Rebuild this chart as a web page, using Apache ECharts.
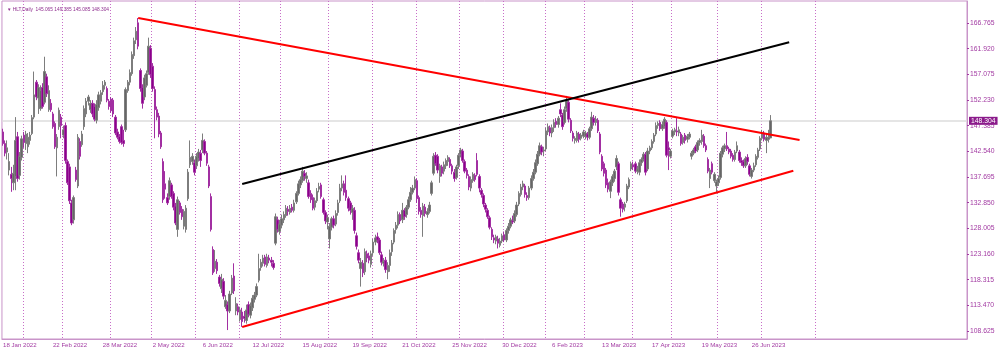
<!DOCTYPE html>
<html>
<head>
<meta charset="utf-8">
<script src="https://cdn.jsdelivr.net/npm/echarts@6/dist/echarts.min.js"></script>
<style>
  html, body { margin: 0; padding: 0; background: #fff; }
  #chart { width: 1000px; height: 352px; }
</style>
</head>
<body>
<div id="chart"></div>
<script>
// HLT daily candles, 18 Jan 2022 .. 10 Jul 2023
const firstDay = '2022-01-18';
const holidays = [
  '2022-01-17', '2022-02-21', '2022-04-15', '2022-05-30', '2022-06-20', '2022-07-04',
  '2022-09-05', '2022-11-24', '2022-12-26', '2023-01-02', '2023-01-16', '2023-02-20',
  '2023-04-07', '2023-05-29', '2023-06-19', '2023-07-04'
];
const futureBars = 94; // empty space right of the last bar

const opens = [
  146.2,144.0,142.4,139.0,138.2,136.6,137.8,145.3,138.0,141.4,
  145.6,144.0,143.4,144.6,145.9,149.0,155.6,152.6,150.6,154.6,
  151.8,156.6,150.4,151.6,149.6,147.8,143.2,147.2,149.0,145.6,
  147.4,140.6,139.6,132.8,129.6,139.0,136.0,144.4,143.8,147.2,
  149.6,152.0,150.4,151.6,151.0,148.4,150.8,152.0,153.8,155.0,
  154.4,152.0,152.4,152.2,149.0,146.2,145.4,147.2,144.6,146.6,
  154.0,155.6,157.2,160.6,163.6,166.8,157.8,154.6,152.8,155.0,
  157.4,162.0,158.6,154.2,150.4,149.2,146.0,140.6,136.4,133.8,
  134.0,136.2,134.6,132.2,127.8,132.8,131.6,128.4,127.8,133.6,
  140.0,140.6,140.4,139.8,141.2,142.2,142.8,144.4,142.2,139.6,
  134.0,124.0,120.4,121.6,118.8,116.6,118.0,113.2,113.6,112.4,
  115.8,119.0,112.4,113.2,110.8,112.2,111.4,110.6,113.6,111.6,
  113.0,114.6,115.4,118.2,120.6,121.4,122.6,121.0,122.4,122.0,
  121.4,125.2,129.6,127.4,128.6,129.6,130.4,131.6,131.0,132.0,
  131.4,133.0,134.6,136.2,137.0,138.4,137.4,136.6,134.6,133.8,
  132.0,133.2,135.4,136.2,133.4,131.0,129.2,126.0,128.2,129.8,
  128.8,131.0,133.2,135.6,136.4,135.2,133.6,132.8,131.0,131.4,
  126.6,123.4,120.4,121.4,119.8,123.2,122.8,121.2,123.4,125.4,
  126.4,125.8,123.0,121.4,122.0,119.8,121.0,123.6,125.4,127.8,
  128.6,130.6,129.6,131.4,130.6,132.0,133.4,134.8,135.6,137.0,
  133.8,131.4,130.4,132.0,130.6,131.2,134.6,138.4,141.8,141.6,
  137.8,139.6,138.8,139.8,140.6,141.0,139.8,138.6,137.6,139.8,
  142.0,142.6,140.6,139.0,137.8,135.6,137.0,138.0,140.8,137.8,
  135.2,134.2,132.4,131.4,130.0,127.8,126.2,125.6,126.0,124.8,
  125.6,126.8,125.8,127.6,128.4,129.4,129.4,130.6,132.6,134.4,
  135.8,136.0,134.2,133.8,135.6,137.4,138.6,140.2,142.0,143.4,
  142.6,143.0,146.2,147.0,146.0,147.0,148.2,147.6,150.4,149.4,
  148.0,150.6,151.8,148.4,146.0,144.6,144.6,145.8,145.0,145.4,
  145.4,145.8,145.2,146.8,148.8,148.0,148.4,145.8,141.6,140.2,
  139.0,136.6,135.0,136.6,137.4,139.6,140.2,133.4,132.6,132.0,
  133.2,135.8,139.2,140.0,140.2,138.8,138.6,140.4,141.0,142.0,
  139.2,142.6,143.2,144.4,145.8,147.4,148.0,146.8,147.2,148.0,
  143.2,141.6,145.4,146.2,146.4,146.0,145.8,144.2,145.6,144.8,
  145.2,141.6,142.2,143.4,142.8,144.2,144.4,145.4,143.6,141.0,
  137.4,140.2,137.0,136.0,136.6,137.6,142.0,143.0,143.6,143.0,
  142.6,141.8,141.0,142.6,142.4,140.8,140.6,139.8,141.4,139.8,
  137.8,139.0,140.0,141.4,143.0,145.0,146.0,144.6,144.8,145.065
];
const closes = [
  144.0,142.2,143.2,140.6,137.4,138.4,144.6,137.4,141.6,144.9,
  144.2,145.8,145.2,145.6,148.9,153.2,152.8,154.6,154.0,151.0,
  157.6,153.4,154.0,150.4,147.2,143.4,145.2,150.3,147.4,146.6,
  140.8,136.6,133.2,129.0,133.8,137.2,145.2,141.6,145.8,150.6,
  152.0,152.8,151.6,149.6,148.6,151.4,153.2,153.6,155.0,155.6,
  152.2,151.0,150.2,149.6,146.0,145.2,144.4,144.2,144.0,154.2,
  155.6,157.4,160.8,163.4,165.2,162.4,154.4,151.6,156.4,157.2,
  162.4,157.0,154.4,150.4,149.0,145.8,143.4,133.4,135.4,132.8,
  137.0,134.0,132.0,129.0,133.4,131.0,130.2,131.2,131.8,138.6,
  141.4,141.6,138.6,141.6,142.4,140.8,144.6,142.2,140.3,136.0,
  127.8,119.6,121.8,120.0,117.6,118.4,115.2,114.4,112.4,115.6,
  118.6,116.2,113.8,112.2,112.6,110.4,111.0,112.6,111.8,113.4,
  114.8,115.4,117.0,120.4,121.6,122.4,121.2,122.6,122.0,121.6,
  120.6,130.2,127.8,128.8,129.8,130.6,131.8,131.2,131.8,131.4,
  132.8,134.6,136.4,137.2,138.8,137.8,137.9,134.0,133.4,131.8,
  133.2,135.0,135.9,134.0,131.0,129.4,130.0,128.4,129.8,128.6,
  130.8,132.8,135.6,136.4,134.8,133.8,131.8,131.4,131.8,127.6,
  124.6,122.0,121.6,119.6,123.6,122.4,122.0,123.2,125.4,126.2,
  125.8,123.4,121.6,121.8,120.2,121.0,123.4,125.2,127.6,128.6,
  130.6,129.4,131.4,130.2,132.0,133.4,134.8,135.6,137.2,133.6,
  131.2,130.6,132.2,130.8,131.2,132.4,136.6,141.6,140.2,139.0,
  139.8,138.4,140.0,140.8,141.4,139.8,138.8,137.4,139.6,141.8,
  142.8,140.8,138.8,138.0,135.8,137.2,138.2,137.2,138.2,135.6,
  134.4,132.6,131.6,130.2,128.2,126.4,125.8,126.4,125.2,125.6,
  126.6,125.8,127.6,128.4,129.6,129.2,130.8,132.4,134.6,135.8,
  136.4,134.4,133.8,135.6,137.4,138.6,140.4,142.0,143.6,142.4,
  142.8,146.4,147.2,146.0,147.0,148.0,147.6,148.8,149.6,147.2,
  150.4,152.2,148.6,146.4,145.0,145.0,146.0,144.8,145.6,146.2,
  146.0,145.2,146.8,149.0,148.0,148.6,146.4,142.4,139.2,138.4,
  136.2,135.4,136.8,137.8,138.8,141.2,134.8,131.8,131.6,132.6,
  136.0,137.2,140.2,139.6,138.8,139.2,140.4,141.0,142.0,138.6,
  142.6,143.2,144.4,145.6,147.4,147.8,146.8,147.6,148.6,141.8,
  142.8,142.6,146.4,146.6,146.2,146.6,144.0,145.2,144.6,145.4,
  145.8,142.2,142.8,142.6,144.2,144.6,145.6,143.6,142.8,138.8,
  139.0,138.6,138.2,136.8,137.4,142.2,143.2,143.6,143.0,142.4,
  141.6,141.0,142.4,143.6,140.8,140.4,139.8,141.2,140.6,138.2,
  139.0,139.8,141.6,142.8,145.0,146.0,144.8,145.2,145.1,148.304
];
const lows = [
  143.6,141.6,141.0,138.0,134.9,135.2,135.2,136.8,137.2,140.8,
  143.2,142.8,142.2,143.8,145.6,148.6,152.2,149.6,150.2,150.6,
  151.4,152.8,150.0,150.0,146.8,143.0,137.8,146.6,145.0,145.0,
  140.2,136.2,132.6,128.6,128.9,136.8,135.6,141.0,143.4,146.6,
  149.0,151.2,149.8,149.0,148.2,147.8,150.2,151.4,153.2,154.2,
  151.8,150.4,149.8,149.0,145.6,144.8,144.0,143.8,143.4,146.2,
  153.6,155.0,156.8,160.0,162.8,161.8,153.8,150.6,152.2,154.6,
  157.0,156.4,153.8,145.0,148.4,145.2,143.0,132.8,133.6,132.4,
  133.4,133.6,131.4,128.6,126.4,130.6,129.6,127.8,127.2,133.2,
  139.4,140.0,138.0,139.2,140.6,139.6,142.2,141.8,139.8,135.6,
  127.4,119.2,119.8,119.4,117.0,115.8,114.6,112.8,108.8,112.0,
  115.4,115.6,111.6,111.6,110.4,109.4,110.2,110.0,111.2,111.0,
  112.4,114.0,115.0,117.8,120.0,120.8,120.8,120.6,121.4,120.8,
  120.2,124.8,127.2,126.8,128.0,129.0,130.0,130.4,130.6,131.0,
  131.0,132.6,134.2,135.6,136.6,137.0,136.6,133.6,132.8,131.4,
  131.4,132.8,134.8,133.6,130.6,128.8,127.8,124.2,127.6,128.0,
  128.4,130.4,132.8,135.0,134.2,133.2,131.2,130.6,129.6,127.0,
  124.0,121.4,117.0,118.8,119.2,121.6,121.4,120.6,122.8,124.8,
  125.2,123.0,121.0,120.8,119.6,118.4,119.8,122.8,125.0,127.0,
  128.0,128.8,129.0,129.6,130.0,131.6,133.0,134.4,135.2,132.8,
  130.6,130.0,126.4,130.2,130.0,130.8,134.2,138.0,139.8,138.4,
  136.6,137.8,138.2,139.2,139.8,139.4,138.2,136.8,137.2,139.2,
  141.4,140.4,138.4,137.4,135.2,135.0,136.6,136.8,137.8,134.8,
  133.8,132.0,131.0,129.8,127.8,125.8,125.2,125.0,124.2,124.4,
  125.2,125.4,125.4,127.0,128.0,128.8,129.0,130.2,132.2,134.0,
  135.2,133.8,133.2,133.4,135.2,137.0,138.2,139.8,141.6,141.8,
  141.6,142.6,145.6,145.4,145.2,146.2,147.0,147.0,149.0,146.6,
  147.6,150.0,148.0,146.0,144.4,144.0,144.2,144.2,144.6,145.0,
  144.8,144.6,144.8,146.4,147.4,147.4,146.0,142.0,138.8,137.8,
  135.6,134.8,133.7,136.0,136.8,139.0,134.2,130.2,131.0,131.2,
  132.8,135.4,138.8,139.0,138.4,138.2,138.0,139.8,140.6,138.0,
  138.8,142.0,142.8,144.0,145.4,146.8,146.4,146.4,146.8,141.4,
  139.0,141.2,145.0,145.6,145.4,145.4,143.6,143.8,144.0,144.2,
  144.8,141.0,141.8,142.2,142.4,143.6,143.8,143.2,142.4,138.4,
  135.6,138.2,136.6,134.6,136.0,137.2,141.4,142.4,142.6,142.0,
  141.2,140.6,140.6,142.2,140.4,139.8,139.4,139.4,140.0,137.8,
  137.4,138.6,139.6,141.0,142.6,144.6,144.4,142.2,144.2,145.085
];
const highs = [
  146.8,144.6,144.6,142.2,139.6,140.0,149.0,146.2,142.4,145.5,
  146.2,146.4,146.0,146.2,149.4,157.6,156.0,155.2,155.0,155.4,
  160.4,157.2,155.0,152.4,150.0,148.2,145.8,150.8,149.6,147.4,
  148.0,141.0,140.2,133.4,134.2,139.6,145.8,145.0,146.4,151.2,
  152.6,153.2,152.2,152.2,151.6,152.2,153.8,154.1,155.8,156.0,
  154.8,152.4,152.8,152.6,149.4,146.8,145.8,147.6,146.6,154.6,
  156.0,158.0,161.4,164.0,166.0,167.7,158.2,155.2,157.0,157.8,
  164.0,162.6,159.2,154.8,151.0,149.8,146.4,141.2,138.8,134.6,
  137.6,136.6,135.0,132.8,134.0,133.2,132.2,131.6,132.4,139.2,
  144.6,142.2,141.0,142.2,143.0,142.8,145.9,144.8,142.6,140.0,
  134.6,124.6,123.9,122.2,119.2,119.4,118.6,115.4,114.2,116.2,
  119.2,121.4,115.0,113.8,113.2,113.0,112.4,113.6,114.2,114.0,
  115.4,116.0,117.6,123.2,122.2,123.0,123.0,123.2,123.0,122.6,
  122.0,130.8,130.2,129.6,130.6,131.2,132.4,132.2,132.4,132.6,
  133.4,135.0,137.0,137.8,139.6,139.0,138.6,137.2,135.2,134.4,
  133.8,135.6,136.6,136.6,133.8,131.4,130.6,129.0,130.2,130.4,
  131.4,133.4,136.4,138.0,137.0,138.0,134.0,133.2,132.4,132.0,
  127.2,124.0,122.4,122.0,124.2,123.8,123.4,123.8,126.0,126.8,
  127.2,126.2,123.6,122.4,122.6,121.6,124.0,125.8,128.0,129.2,
  131.2,131.0,132.8,131.8,132.4,134.0,135.8,136.2,137.8,137.4,
  134.2,132.0,132.8,132.6,131.8,133.0,137.0,142.2,142.4,142.0,
  140.2,140.0,140.6,141.2,141.8,141.4,140.2,139.2,140.0,142.2,
  143.2,143.0,141.0,139.4,138.2,137.8,138.6,138.4,142.2,138.2,
  135.6,134.6,132.8,131.8,130.4,128.2,126.8,126.8,126.6,126.2,
  127.0,127.4,128.0,129.0,130.0,130.4,131.4,133.0,135.0,136.4,
  137.0,136.4,134.8,136.0,138.0,139.2,141.0,142.6,144.2,143.8,
  143.4,147.0,147.8,147.4,147.6,148.6,148.8,149.2,151.6,149.8,
  151.0,153.0,152.2,148.8,146.4,145.4,146.4,146.2,146.0,146.6,
  146.4,146.2,147.2,150.0,149.4,149.2,148.8,146.2,142.0,140.6,
  139.4,137.4,137.2,138.2,139.2,141.8,140.6,133.8,133.0,133.0,
  136.4,137.6,140.6,140.6,140.6,139.8,141.0,141.4,142.4,142.4,
  143.2,143.6,144.8,146.0,148.0,148.2,148.4,148.2,149.0,148.4,
  144.4,143.0,146.8,147.0,148.8,147.2,146.2,145.6,146.0,145.8,
  146.2,142.6,143.2,143.8,144.6,145.0,146.6,145.8,144.0,141.4,
  139.4,140.6,138.6,137.2,138.0,142.6,143.6,144.0,146.2,143.4,
  143.0,142.2,142.8,144.4,142.8,141.4,141.0,141.6,142.0,140.2,
  139.4,140.4,142.0,143.2,145.4,146.6,146.4,145.8,146.6,149.385
];

const priceTicks = [108.625, 113.470, 118.315, 123.160, 128.005, 132.850, 137.695,
  142.540, 147.385, 152.230, 157.075, 161.920, 166.765];
const lastPrice = 148.304;
const headerText = 'HLT,Daily  145.065 149.385 145.085 148.304';

// trend lines: [bar index, price]
const resistanceLine = [[65, 167.7], [383, 144.68]];
const supportLine = [[115, 109.37], [380, 138.88]];
const channelLine = [[115, 136.37], [378, 163.12]];

const MONTHS = ['Jan', 'Feb', 'Mar', 'Apr', 'May', 'Jun', 'Jul', 'Aug', 'Sep', 'Oct', 'Nov', 'Dec'];

// build category dates: trading days, then plain calendar days for the empty right side
const nBars = Math.min(opens.length, closes.length, lows.length, highs.length);
const dates = [];
const monthKeys = [];
const day = new Date(firstDay + 'T00:00:00Z');
function pushDay(d) {
  dates.push(d.getUTCDate() + ' ' + MONTHS[d.getUTCMonth()] + ' ' + d.getUTCFullYear());
  monthKeys.push(d.getUTCFullYear() * 12 + d.getUTCMonth());
}
while (dates.length < nBars) {
  const iso = day.toISOString().slice(0, 10);
  const dow = day.getUTCDay();
  if (dow !== 0 && dow !== 6 && !holidays.includes(iso)) pushDay(day);
  day.setUTCDate(day.getUTCDate() + 1);
}
while (dates.length < nBars + futureBars) {
  pushDay(day);
  day.setUTCDate(day.getUTCDate() + 1);
}

const candles = [];
for (let i = 0; i < nBars; i++) candles.push([opens[i], closes[i], lows[i], highs[i]]);

const isLabel = (i) => i % 24 === 0 && i < nBars;
// month separators; only the first one past the last bar is shown
const lastMonth = monthKeys[nBars - 1];
const isMonthStart = (i) => i > 0 && monthKeys[i] !== monthKeys[i - 1] && monthKeys[i] <= lastMonth + 1;

const PURPLE = '#a23aa2';
const FRAME = '#c994c9';
const FONT = 'Liberation Sans';

const chart = echarts.init(document.getElementById('chart'), null, { renderer: 'canvas' });

const trend = (name, data, color) => ({
  name,
  type: 'line',
  data,
  symbol: 'none',
  silent: true,
  z: 5,
  lineStyle: { color, width: 2 },
});

chart.setOption({
  animation: false,
  backgroundColor: '#fff',
  title: {
    text: '{tri|▼} ' + headerText,
    left: 2,
    top: 2,
    textStyle: {
      fontFamily: FONT,
      fontSize: 4.8,
      fontWeight: 'normal',
      color: '#8e2d8e',
      rich: { tri: { fontSize: 4.5, color: '#8e2d8e' } },
    },
  },
  grid: {
    left: 1,
    right: 33,
    top: 1,
    bottom: 13,
    show: true,
    borderColor: FRAME,
    borderWidth: 1,
  },
  xAxis: {
    type: 'category',
    data: dates,
    boundaryGap: true,
    axisLine: { lineStyle: { color: FRAME } },
    axisTick: {
      interval: (i) => isLabel(i),
      alignWithLabel: true,
      length: 3,
      lineStyle: { color: PURPLE },
    },
    axisLabel: {
      interval: (i) => isLabel(i),
      align: 'left',
      margin: 3,
      fontFamily: FONT,
      fontSize: 6.1,
      color: PURPLE,
    },
    splitLine: {
      show: true,
      interval: (i) => isMonthStart(i),
      lineStyle: { color: '#c86ec8', width: 1, type: [1, 2] },
    },
  },
  yAxis: {
    type: 'value',
    position: 'right',
    min: 107.11,
    max: 170.92,
    axisLine: { show: true, lineStyle: { color: FRAME } },
    axisTick: { show: true, customValues: priceTicks, length: 2, lineStyle: { color: PURPLE } },
    axisLabel: {
      customValues: priceTicks,
      formatter: (v) => v.toFixed(3),
      margin: 3,
      fontFamily: FONT,
      fontSize: 6.8,
      color: PURPLE,
    },
    splitLine: { show: false },
  },
  series: [
    {
      name: 'HLT',
      type: 'candlestick',
      data: candles,
      barWidth: 2,
      z: 3,
      itemStyle: {
        color: '#666666',
        color0: '#8b008b',
        borderColor: '#7d7d7d',
        borderColor0: '#a22fa2',
        borderWidth: 1,
      },
      markLine: {
        silent: true,
        symbol: ['none', 'none'],
        animation: false,
        z: 1,
        lineStyle: { color: '#dcdcdc', width: 1.5, type: 'solid' },
        label: {
          position: 'end',
          distance: 2,
          formatter: () => lastPrice.toFixed(3),
          fontFamily: FONT,
          fontSize: 6.8,
          color: '#fff',
          backgroundColor: '#8b1a8b',
          padding: [1, 2, 0, 2],
        },
        data: [{ yAxis: lastPrice }],
      },
    },
    trend('resistance', resistanceLine, '#ff0000'),
    trend('support', supportLine, '#ff0000'),
    trend('channel', channelLine, '#000000'),
  ],
});
</script>
</body>
</html>
